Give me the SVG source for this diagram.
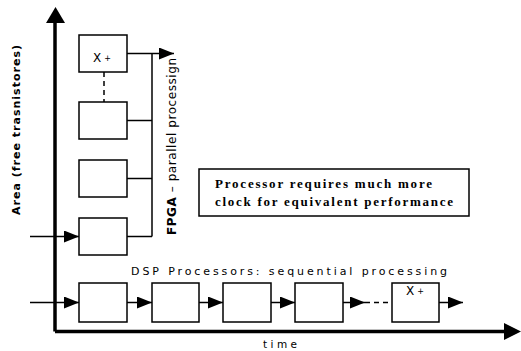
<svg xmlns="http://www.w3.org/2000/svg" width="521" height="351" viewBox="0 0 521 351">
<style>
.box{fill:#fff;stroke:#000;stroke-width:1.5}
.ln{fill:none;stroke:#000;stroke-width:1.5}
.dash{fill:none;stroke:#000;stroke-width:1.5;stroke-dasharray:5 4}
.ax{fill:none;stroke:#000;stroke-width:3.5}
.sans{font-family:"DejaVu Sans","Verdana",sans-serif;fill:#000}
.serif{font-family:"Liberation Serif","Times New Roman",serif;font-weight:bold;fill:#000;font-size:13px}
</style>
<defs>
<marker id="ah" markerWidth="15" markerHeight="12" refX="15" refY="6" orient="auto" markerUnits="userSpaceOnUse">
<path d="M0,0 L15,6 L0,12 Z" fill="#000"/>
</marker>
</defs>
<g id="axes">
<line class="ax" x1="55" y1="331.5" x2="55" y2="22"/>
<path d="M46,23 L55.5,7 L65,23 Z" fill="#000"/>
<line class="ax" x1="55" y1="331.5" x2="505" y2="331.5"/>
<path d="M504,323 L521,331.5 L504,340 Z" fill="#000"/>
<text class="sans" font-size="11" font-weight="bold" transform="translate(20,215) rotate(-90)" textLength="170" lengthAdjust="spacing">Area (free trasnistores)</text>
<text class="sans" font-size="10.5" x="263" y="347.5" textLength="34" lengthAdjust="spacing">time</text>
</g>
<g id="connectors">
<line class="dash" x1="104" y1="72" x2="104" y2="102"/>
<line class="ln" x1="127" y1="53.5" x2="152" y2="53.5"/>
<line class="ln" x1="127" y1="120.5" x2="152" y2="120.5"/>
<line class="ln" x1="127" y1="178.5" x2="152" y2="178.5"/>
<line class="ln" x1="127" y1="236.5" x2="152" y2="236.5"/>
<line class="ln" x1="152" y1="53.5" x2="152" y2="236.5"/>
<line class="ln" x1="152" y1="53.5" x2="174" y2="53.5" marker-end="url(#ah)"/>
<line class="ln" x1="30" y1="236.5" x2="79" y2="236.5" marker-end="url(#ah)"/>
<line class="ln" x1="30" y1="302.5" x2="79" y2="302.5" marker-end="url(#ah)"/>
<line class="ln" x1="127" y1="302.5" x2="152" y2="302.5" marker-end="url(#ah)"/>
<line class="ln" x1="199" y1="302.5" x2="223" y2="302.5" marker-end="url(#ah)"/>
<line class="ln" x1="271" y1="302.5" x2="295" y2="302.5" marker-end="url(#ah)"/>
<line class="ln" x1="343" y1="302.5" x2="365" y2="302.5" marker-end="url(#ah)"/>
<line class="dash" x1="365" y1="302.5" x2="392" y2="302.5"/>
<line class="ln" x1="439" y1="302.5" x2="463" y2="302.5" marker-end="url(#ah)"/>
</g>
<g id="fpga1"><rect class="box" x="79" y="35" width="48" height="37"/>
<text class="sans" font-size="12" x="93" y="62">X<tspan font-size="8" dx="3" dy="-1.5">+</tspan></text></g>
<g id="fpga2"><rect class="box" x="79" y="102" width="48" height="37"/></g>
<g id="fpga3"><rect class="box" x="79" y="160" width="48" height="37"/></g>
<g id="fpga4"><rect class="box" x="79" y="218" width="48" height="37"/></g>
<g id="fpga-label"><text class="sans" font-size="12" transform="translate(176,235) rotate(-90)" textLength="177" lengthAdjust="spacing"><tspan font-weight="bold">FPGA</tspan> – parallel processign</text></g>
<g id="dsp1"><rect class="box" x="79" y="283" width="48" height="39"/></g>
<g id="dsp2"><rect class="box" x="152" y="283" width="47" height="39"/></g>
<g id="dsp3"><rect class="box" x="223" y="283" width="48" height="39"/></g>
<g id="dsp4"><rect class="box" x="295" y="283" width="48" height="39"/></g>
<g id="dsp5"><rect class="box" x="392" y="283" width="47" height="39"/>
<text class="sans" font-size="12" x="406" y="295">X<tspan font-size="8" dx="3" dy="-1.5">+</tspan></text></g>
<g id="dsp-label"><text class="sans" font-size="11" x="131" y="275" textLength="316" lengthAdjust="spacing">DSP Processors: sequential processing</text></g>
<g id="note"><rect class="box" x="199" y="169" width="270" height="47"/>
<text class="serif" x="215" y="188" textLength="217" lengthAdjust="spacing">Processor requires much more</text>
<text class="serif" x="215" y="206" textLength="238" lengthAdjust="spacing">clock for equivalent performance</text></g>
</svg>
